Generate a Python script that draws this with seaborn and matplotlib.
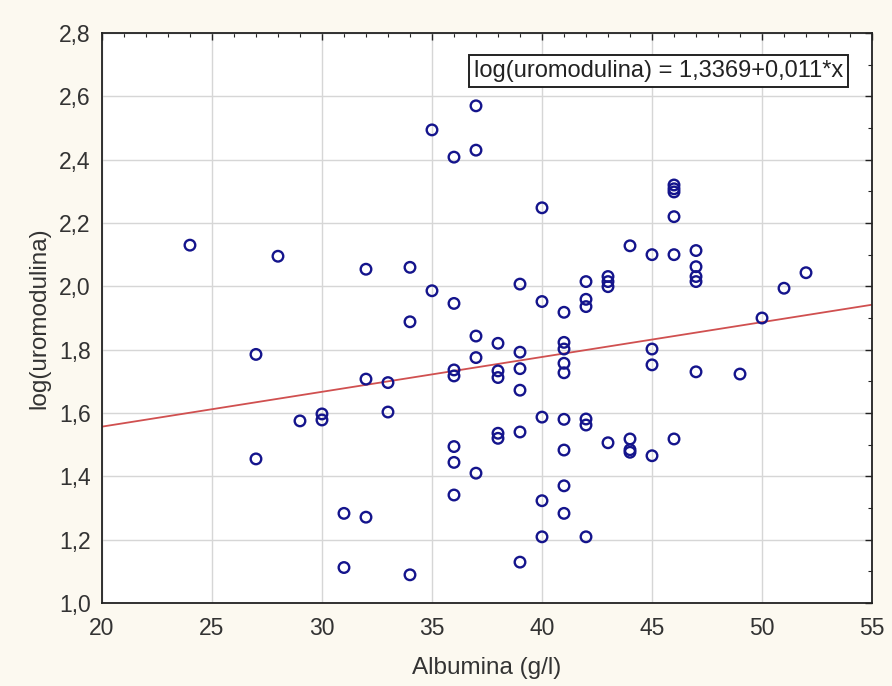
import matplotlib
matplotlib.use("Agg")
import matplotlib.pyplot as plt
import matplotlib.ticker as mticker
import numpy as np
import pandas as pd
import seaborn as sns

# Albumina (g/l) vs log(uromodulina)
albumina = [
    24, 27, 27, 28, 29, 30, 30, 31, 31, 32, 32, 32, 33, 33, 34, 34, 34, 35, 35,
    36, 36, 36, 36, 36, 36, 36, 37, 37, 37, 37, 37,
    38, 38, 38, 38, 38, 39, 39, 39, 39, 39, 39,
    40, 40, 40, 40, 40, 41, 41, 41, 41, 41, 41, 41, 41, 41,
    42, 42, 42, 42, 42, 42, 43, 43, 43, 43, 44, 44, 44, 44,
    45, 45, 45, 45, 46, 46, 46, 46, 46, 46, 47, 47, 47, 47, 47,
    49, 50, 51, 52,
]
log_uromodulina = [
    2.13, 1.785, 1.455, 2.095, 1.575, 1.597, 1.578, 1.283, 1.112, 2.054, 1.707, 1.271,
    1.696, 1.603, 2.06, 1.888, 1.089, 2.494, 1.986,
    2.408, 1.946, 1.736, 1.717, 1.494, 1.444, 1.341, 2.57, 2.43, 1.843, 1.775, 1.41,
    1.82, 1.733, 1.712, 1.536, 1.52, 2.007, 1.792, 1.74, 1.672, 1.54, 1.129,
    2.248, 1.952, 1.587, 1.323, 1.209, 1.918, 1.823, 1.802, 1.757, 1.727, 1.58, 1.483, 1.37, 1.283,
    2.015, 1.959, 1.936, 1.581, 1.562, 1.209, 2.031, 2.015, 1.999, 1.506, 2.128, 1.518, 1.484, 1.476,
    2.10, 1.802, 1.752, 1.465, 2.32, 2.308, 2.298, 2.22, 2.10, 1.518, 2.113, 2.062, 2.031, 2.015, 1.73,
    1.723, 1.90, 1.994, 2.043,
]

# regression reported in the chart
intercept = 1.3369
slope = 0.011

df = pd.DataFrame({"albumina": albumina, "log_uromodulina": log_uromodulina})

sns.set_style("white")
plt.rcParams["font.family"] = ["Liberation Sans", "DejaVu Sans"]

fig = plt.figure(figsize=(8.92, 6.86), dpi=100, facecolor="#fcf9f0")
ax = fig.add_axes([0.1143, 0.121, 0.8633, 0.8309])
ax.set_facecolor("white")

sns.scatterplot(
    data=df, x="albumina", y="log_uromodulina", ax=ax,
    marker="o", s=58, facecolors="none", edgecolor="#14148c", linewidth=1.7,
    zorder=3,
)

xs = np.array([20, 55])
ax.plot(xs, intercept + slope * xs, color="#d05050", linewidth=1.3, zorder=2)

ax.set_xlim(20, 55)
ax.set_ylim(1.0, 2.8)
ax.xaxis.set_major_locator(mticker.MultipleLocator(5))
ax.xaxis.set_minor_locator(mticker.MultipleLocator(1))
ax.yaxis.set_major_locator(mticker.MultipleLocator(0.2))
ax.yaxis.set_minor_locator(mticker.MultipleLocator(0.1))
ax.yaxis.set_major_formatter(mticker.FuncFormatter(lambda v, p: f"{v:.1f}".replace(".", ",")))
ax.tick_params(which="both", direction="in", top=True, right=True, colors="#222222")
ax.tick_params(which="major", length=5, width=1, labelsize=16.5, labelcolor="#333333")
ax.tick_params(which="minor", length=3, width=0.8)
ax.tick_params(axis="x", which="major", pad=10)
ax.tick_params(axis="y", which="major", pad=8)

ax.grid(True, which="major", color="#d6d6d6", linewidth=1)
ax.set_axisbelow(True)
for sp in ax.spines.values():
    sp.set_color("#222222")
    sp.set_linewidth(1.3)

ax.set_xlabel("Albumina (g/l)", fontsize=17.5, color="#333333", labelpad=12)
ax.set_ylabel("log(uromodulina)", fontsize=17.5, color="#333333", labelpad=6)

eq = f"log(uromodulina) = {intercept:.4f}+{slope:.3f}*x".replace(".", ",")
ax.text(0.9623, 0.9333, eq, transform=ax.transAxes, ha="right", va="center",
        fontsize=17, color="#222222", zorder=5,
        bbox=dict(boxstyle="square,pad=0.2", facecolor="white",
                  edgecolor="#222222", linewidth=1.4))

fig.savefig("out.png", dpi=100, facecolor=fig.get_facecolor())
